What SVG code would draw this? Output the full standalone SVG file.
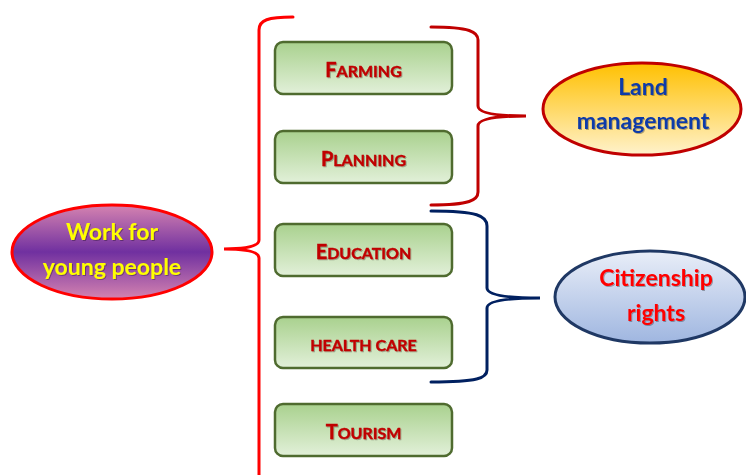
<svg xmlns="http://www.w3.org/2000/svg" width="746" height="475" viewBox="0 0 746 475">
<defs>
<linearGradient id="gPurple" x1="0" y1="0" x2="0" y2="1">
<stop offset="0" stop-color="#d583b0"/>
<stop offset="0.5" stop-color="#7030a0"/>
<stop offset="1" stop-color="#d583b0"/>
</linearGradient>
<linearGradient id="gGreen" x1="0" y1="0" x2="0" y2="1">
<stop offset="0" stop-color="#a9d18e"/>
<stop offset="1" stop-color="#e2f0d9"/>
</linearGradient>
<linearGradient id="gGold" x1="0" y1="0" x2="0" y2="1">
<stop offset="0" stop-color="#ffc000"/>
<stop offset="1" stop-color="#fff2cc"/>
</linearGradient>
<linearGradient id="gBlue" x1="0" y1="0" x2="0" y2="1">
<stop offset="0" stop-color="#e9eef8"/>
<stop offset="1" stop-color="#9fb6e0"/>
</linearGradient>
<filter id="sh" x="-10%" y="-10%" width="120%" height="130%">
<feDropShadow dx="1" dy="1" stdDeviation="0.6" flood-color="#000" flood-opacity="0.3"/>
</filter>
</defs>
<style>
.box{fill:url(#gGreen);stroke:#4f6b2f;stroke-width:2.5}
.bt{font-family:Lato,"Liberation Sans",sans-serif;font-weight:bold;fill:#c00000;text-anchor:middle;font-size:16px;stroke:#c00000;stroke-width:0.4}
.big{font-size:20px}
.et{font-family:Lato,"Liberation Sans",sans-serif;font-weight:bold;font-size:23px;text-anchor:middle}
.br{fill:none;stroke-width:3;stroke-linecap:round}
</style>
<g id="connectors">
<path class="br" stroke="#ff0000" d="M293,17 C268,17 259,20 259,30 L259,240 Q259,249 224,249 Q259,249 259,258 L259,480"/>
<path class="br" stroke="#c00000" d="M431,27 C470,27 478,32 478,40 L478,106 Q478,116 526,116 Q478,116 478,126 L478,192 C478,200 470,205 431,205"/>
<path class="br" stroke="#002060" d="M431,211 C478,211 487,216 487,226 L487,288 Q487,298 540,298 Q487,298 487,308 L487,370 C487,378 478,382 431,382"/>
</g>
<g id="work">
<ellipse cx="112" cy="252" rx="100" ry="47" fill="url(#gPurple)" stroke="#ff0000" stroke-width="3"/>
<text class="et" fill="#ffff00" filter="url(#sh)"><tspan x="112" y="240">Work for</tspan><tspan x="112" y="275">young people</tspan></text>
</g>
<g id="farming">
<rect class="box" x="275" y="42" width="177" height="52" rx="8"/>
<text class="bt" x="363.5" y="77" filter="url(#sh)"><tspan class="big">F</tspan>ARMING</text>
</g>
<g id="planning">
<rect class="box" x="275" y="131" width="177" height="52" rx="8"/>
<text class="bt" x="363.5" y="166" filter="url(#sh)"><tspan class="big">P</tspan>LANNING</text>
</g>
<g id="education">
<rect class="box" x="275" y="224" width="177" height="52" rx="8"/>
<text class="bt" x="363.5" y="259" filter="url(#sh)"><tspan class="big">E</tspan>DUCATION</text>
</g>
<g id="healthcare">
<rect class="box" x="275" y="317" width="177" height="51" rx="8"/>
<text class="bt" x="363.5" y="351" filter="url(#sh)">HEALTH CARE</text>
</g>
<g id="tourism">
<rect class="box" x="275" y="404" width="177" height="52" rx="8"/>
<text class="bt" x="363.5" y="439" filter="url(#sh)"><tspan class="big">T</tspan>OURISM</text>
</g>
<g id="land">
<ellipse cx="642" cy="109" rx="99" ry="46" fill="url(#gGold)" stroke="#c00000" stroke-width="3"/>
<text class="et" fill="#0d3aa9" filter="url(#sh)"><tspan x="643" y="95">Land</tspan><tspan x="643" y="129">management</tspan></text>
</g>
<g id="citizenship">
<ellipse cx="650" cy="297" rx="95" ry="46" fill="url(#gBlue)" stroke="#1f3864" stroke-width="3"/>
<text class="et" fill="#ff0000" filter="url(#sh)"><tspan x="656" y="286">Citizenship</tspan><tspan x="656" y="321">rights</tspan></text>
</g>
</svg>
